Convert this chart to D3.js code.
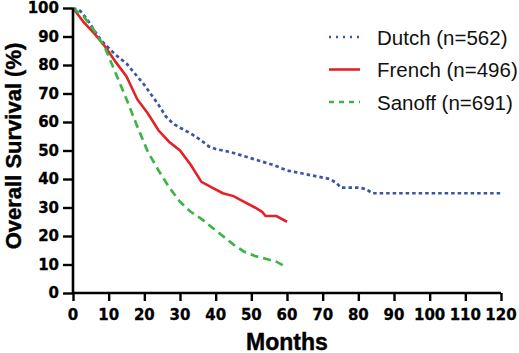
<!DOCTYPE html>
<html>
<head>
<meta charset="utf-8">
<script src="https://cdn.jsdelivr.net/npm/d3@7"></script>
<style>
  html, body { margin: 0; padding: 0; background: #fff; }
  svg { display: block; font-family: Arial, "Liberation Sans", sans-serif; }
</style>
</head>
<body>
<div id="chart"></div>
<script>
// Survival curves: [month, % surviving]
const dutch = [
  [0, 100], [2, 99], [4, 96], [6, 92], [8, 88.5], [10, 86], [12, 83.5], [15, 80.5],
  [18, 76], [20, 73], [22, 69.5], [24, 66], [26, 62], [28, 59.5], [30, 58], [33, 56],
  [36, 53.5], [38, 51.5], [40, 50.5], [44, 49.5], [48, 48], [52, 46.5], [56, 45],
  [58, 44], [60, 43], [64, 42], [68, 41], [72, 40], [74, 38.5], [75, 37], [80, 37],
  [82, 36.5], [84, 35], [120, 35]
];
const french = [
  [0, 100], [3, 95], [6, 91], [9, 86.5], [12, 81], [15, 76], [18, 68], [21, 63],
  [24, 57], [27, 53], [30, 50], [33, 45], [36, 39], [39, 37], [42, 35], [45, 34],
  [48, 32], [51, 30], [53, 28.5], [54, 27], [57, 27], [60, 25]
];
const sanoff = [
  [0, 100], [3, 97], [6, 92], [9, 86], [12, 77], [15, 68], [18, 58.5], [21, 49.5],
  [24, 43], [27, 37], [30, 32], [33, 28.5], [36, 26], [39, 23], [42, 20], [45, 17],
  [48, 14.5], [51, 13], [54, 12], [57, 11], [60, 9]
];
const seriesNames = ['Dutch (n=562)', 'French (n=496)', 'Sanoff (n=691)'];
const xTicks = d3.range(0, 121, 10);
const yTicks = d3.range(0, 101, 10);

const width = 519, height = 353;
const margin = { top: 8, right: 18, bottom: 60, left: 73 };
const innerWidth = 501 - margin.left;
const innerHeight = 293 - margin.top;
const tickFont = '"DejaVu Sans", Verdana, sans-serif';

const svg = d3.select('#chart').append('svg')
  .attr('width', width).attr('height', height);
const g = svg.append('g').attr('transform', `translate(${margin.left},${margin.top})`);

const x = d3.scaleLinear().domain([0, 120]).range([0, innerWidth]);
const y = d3.scaleLinear().domain([0, 100]).range([innerHeight, 0]);

const styles = [
  { data: dutch,  color: '#3b55a3', dash: '3.5 3', width: 2.7 },
  { data: french, color: '#e32228', dash: null,    width: 2.6 },
  { data: sanoff, color: '#3fb34a', dash: '8 5',   width: 2.7 },
];

const line = d3.line().x(d => x(d[0])).y(d => y(d[1]));

styles.forEach(s => {
  g.append('path')
    .datum(s.data)
    .attr('fill', 'none')
    .attr('stroke', s.color)
    .attr('stroke-width', s.width)
    .attr('stroke-dasharray', s.dash)
    .attr('d', line);
});

// Axes: lines and ticks from d3, labels drawn separately below
const xAxisG = g.append('g').attr('transform', `translate(0,${innerHeight})`)
  .call(d3.axisBottom(x).tickValues(xTicks).tickSize(8).tickFormat(''));
const yAxisG = g.append('g')
  .call(d3.axisLeft(y).tickValues(yTicks).tickSize(10).tickFormat(''));

[xAxisG, yAxisG].forEach(a => {
  a.selectAll('path.domain').attr('stroke', '#000').attr('stroke-width', 2.6);
  a.selectAll('.tick line').attr('stroke', '#000').attr('stroke-width', 2.4);
});
xAxisG.select('path.domain').attr('d', `M0,0H${innerWidth}`);
yAxisG.select('path.domain').attr('d', `M0,${innerHeight}V0`);

g.append('g').selectAll('text').data(xTicks).join('text')
  .attr('x', d => x(d))
  .attr('y', innerHeight + 27)
  .attr('text-anchor', 'middle')
  .attr('font-family', tickFont).attr('font-weight', 'bold').attr('font-size', 15)
  .attr('fill', '#000').attr('stroke', '#000').attr('stroke-width', 0.3)
  .text(d => d);

g.append('g').selectAll('text').data(yTicks).join('text')
  .attr('x', -14)
  .attr('y', d => y(d) + 5.4)
  .attr('text-anchor', 'end')
  .attr('font-family', tickFont).attr('font-weight', 'bold').attr('font-size', 15)
  .attr('fill', '#000').attr('stroke', '#000').attr('stroke-width', 0.3)
  .text(d => d);

// Axis titles
svg.append('text')
  .attr('x', 287).attr('y', 350)
  .attr('text-anchor', 'middle')
  .attr('stroke', '#000').attr('stroke-width', 0.4)
  .attr('font-weight', 'bold').attr('font-size', 23)
  .text('Months');

svg.append('text')
  .attr('transform', 'translate(21,146) rotate(-90)')
  .attr('text-anchor', 'middle')
  .attr('stroke', '#000').attr('stroke-width', 0.4)
  .attr('font-weight', 'bold').attr('font-size', 22)
  .text('Overall Survival (%)');

// Legend
const legend = svg.append('g');
styles.forEach((s, i) => {
  const ly = 37 + i * 32.5;
  legend.append('line')
    .attr('x1', 329).attr('x2', 360).attr('y1', ly).attr('y2', ly)
    .attr('stroke', s.color)
    .attr('stroke-width', s.width)
    .attr('stroke-dasharray', i === 0 ? '2 5' : s.dash ? '5 5' : null);
  legend.append('text')
    .attr('x', 377).attr('y', ly + 7.5)
    .attr('font-size', 20.5)
    .attr('fill', '#111')
    .text(seriesNames[i]);
});
</script>
</body>
</html>
